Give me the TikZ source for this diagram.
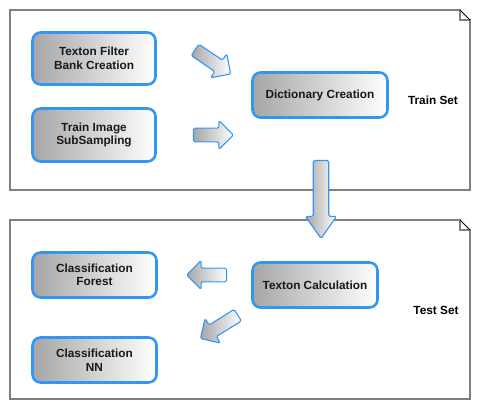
\documentclass[tikz,border=0pt]{standalone}
\usepackage{fontspec}
\setmainfont{Liberation Sans}
\usetikzlibrary{shapes.arrows}
\definecolor{boxblue}{RGB}{51,150,245}
\definecolor{framegray}{RGB}{128,128,128}
\begin{document}
\begin{tikzpicture}[x=1pt, y=-1pt,
        box/.style={rectangle, draw=boxblue, line width=2.6pt, rounded corners=8pt,
            left color=black!35, right color=white, align=center,
            font=\fontsize{11.8}{13.5}\selectfont\bfseries, text=black!90},
        blockarrow/.style={single arrow, draw=boxblue, line width=1.1pt, rounded corners=1.5pt,
            left color=black!35, right color=white, inner xsep=0pt, inner ysep=5.8pt,
            single arrow tip angle=90, minimum width=29pt, minimum height=40pt},
        frame/.style={draw=framegray, line width=1.6pt},
        setlabel/.style={font=\fontsize{11.8}{13.5}\selectfont\bfseries}
    ]
        \useasboundingbox (0,0) rectangle (490,420);

        % train set
        \draw[frame] (10,10) -- (460,10) -- (460,20) -- (470,20) -- (470,190) -- (10,190) -- cycle;
        \draw[line width=0.8pt] (460,10) -- (470,20);
        \node[setlabel] (trainset) at (433,100) {Train Set};

        \node[box, minimum width=123pt, minimum height=52pt] (filter) at (94,58.5) {Texton Filter\\Bank Creation};
        \node[box, minimum width=123pt, minimum height=53pt] (sampling) at (94,135) {Train Image\\SubSampling};
        \node[box, minimum width=135pt, minimum height=45pt] (dictionary) at (320,95) {Dictionary Creation};

        \node[blockarrow, rotate=-34, minimum height=43pt] (filterarrow) at (210,60) {};
        \node[blockarrow] (samplingarrow) at (210,135) {};

        % test set
        \draw[frame] (10,220) -- (460,220) -- (460,230) -- (470,230) -- (470,399) -- (10,399) -- cycle;
        \draw[line width=0.8pt] (460,220) -- (470,230);
        \node[setlabel] (testset) at (436,310) {Test Set};

        \node[box, minimum width=125pt, minimum height=45pt] (texton) at (315,285) {Texton Calculation};
        \node[box, minimum width=124pt, minimum height=45pt] (forest) at (94.5,275) {Classification\\Forest};
        \node[box, minimum width=124pt, minimum height=45pt] (nn) at (94.5,360) {Classification\\NN};

        \node[blockarrow, rotate=180] (forestarrow) at (210,275) {};
        \node[blockarrow, rotate=-148, minimum height=44pt] (nnarrow) at (222,325) {};

        % train -> test
        \node[blockarrow, rotate=-90, minimum height=78pt, minimum width=31pt, inner ysep=6.6pt,
            single arrow tip angle=70] (setarrow) at (321,194) {};
    \end{tikzpicture}
\end{document}
